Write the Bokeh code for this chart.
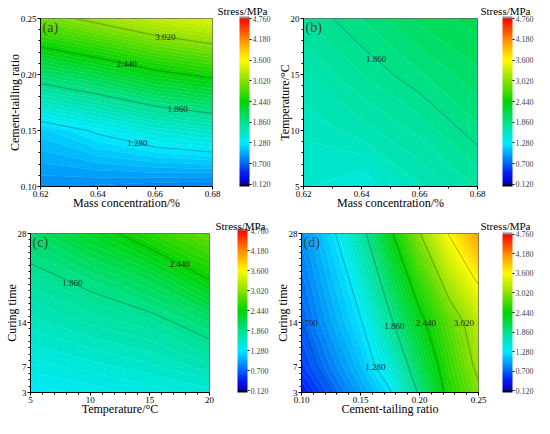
import numpy as np
from bokeh.plotting import figure
from bokeh.plotting.contour import contour_data
from bokeh.models import (ColorBar, LinearColorMapper, FixedTicker, Label, Range1d,
                          PrintfTickFormatter)
from bokeh.layouts import column, row
from bokeh.embed import file_html
from bokeh.resources import INLINE
from bokeh.core.properties import value

FONT = "Liberation Serif"

# ---------------- data ----------------
# (a) stress vs mass concentration (x) and cement-tailing ratio (y)
a_x = [0.62, 0.64, 0.66, 0.68]
a_y = [0.10, 0.15, 0.20, 0.25]
a_z = [[0.88, 0.86, 0.83, 0.80],
       [1.14, 1.31, 1.47, 1.58],
       [2.00, 2.16, 2.37, 2.50],
       [2.90, 3.10, 3.30, 3.45]]

# (b) stress vs mass concentration (x) and temperature (y)
b_x = [0.62, 0.64, 0.66, 0.68]
b_y = [5, 10, 15, 20]
b_z = [[1.52, 1.45, 1.62, 1.75],
       [1.58, 1.66, 1.76, 1.90],
       [1.68, 1.80, 1.91, 2.02],
       [1.80, 1.92, 2.05, 2.12]]

# (c) stress vs temperature (x) and curing time (y)
c_x = [5, 10, 15, 20]
c_y = [3, 7, 14, 21, 28]
c_z = [[1.30, 1.36, 1.42, 1.48],
       [1.42, 1.48, 1.55, 1.66],
       [1.60, 1.70, 1.78, 1.98],
       [1.78, 1.93, 2.12, 2.46],
       [2.03, 2.30, 2.60, 2.85]]

# (d) stress vs cement-tailing ratio (x) and curing time (y)
d_x = [0.10, 0.125, 0.15, 0.175, 0.20, 0.225, 0.25]
d_y = [3, 7, 14, 28]
d_z = [[0.40, 0.68, 0.97, 1.25, 1.91, 2.55, 2.95],
       [0.55, 0.82, 1.09, 1.47, 2.09, 2.63, 3.10],
       [0.69, 0.98, 1.25, 1.80, 2.34, 2.80, 3.24],
       [0.90, 1.20, 1.74, 2.38, 3.00, 3.62, 4.10]]

# colour-bar / contour levels
stress_ticks = [0.12, 0.70, 1.28, 1.86, 2.44, 3.02, 3.60, 4.18, 4.76]
stress_labels = ["0.120", "0.700", "1.280", "1.860", "2.440", "3.020", "3.600", "4.180", "4.760"]

# axis ticks
a_xticks, a_xlabels = [0.62, 0.64, 0.66, 0.68], ["0.62", "0.64", "0.66", "0.68"]
a_yticks, a_ylabels = [0.10, 0.15, 0.20, 0.25], ["0.10", "0.15", "0.20", "0.25"]
b_xticks, b_xlabels = [0.62, 0.64, 0.66, 0.68], ["0.62", "0.64", "0.66", "0.68"]
b_yticks, b_ylabels = [5, 10, 15, 20], ["5", "10", "15", "20"]
c_xticks, c_xlabels = [5, 10, 15, 20], ["5", "10", "15", "20"]
c_yticks, c_ylabels = [3, 7, 14, 28], ["3", "7", "14", "28"]
d_xticks, d_xlabels = [0.10, 0.15, 0.20, 0.25], ["0.10", "0.15", "0.20", "0.25"]
d_yticks, d_ylabels = [3, 7, 14, 28], ["3", "7", "14", "28"]

# ---------------- colours ----------------
anchor_v = [0.12, 0.41, 0.70, 1.28, 1.86, 2.44, 3.02, 3.60, 4.18, 4.76]
anchor_rgb = [(10, 0, 170), (0, 25, 245), (0, 100, 245), (0, 235, 255), (0, 225, 140),
              (0, 212, 0), (140, 225, 0), (255, 250, 0), (255, 140, 0), (255, 0, 0)]


def color_at(v):
    r = np.interp(v, anchor_v, [c[0] for c in anchor_rgb])
    g = np.interp(v, anchor_v, [c[1] for c in anchor_rgb])
    b = np.interp(v, anchor_v, [c[2] for c in anchor_rgb])
    return "#%02x%02x%02x" % (int(round(r)), int(round(g)), int(round(b)))


N_SUB = 10
fill_levels = list(np.linspace(stress_ticks[0], stress_ticks[-1], (len(stress_ticks) - 1) * N_SUB + 1))
step = fill_levels[1] - fill_levels[0]
band_colors = [color_at(0.5 * (lo + hi)) for lo, hi in zip(fill_levels[:-1], fill_levels[1:])]
level_colors = [color_at(v) for v in fill_levels]
cb_palette = ["#000000"] + band_colors + ["#8c8c8c"]


def point_on(xs, ys, axis, t):
    a = np.asarray(xs if axis == "x" else ys, float)
    b = np.asarray(ys if axis == "x" else xs, float)
    for i in range(len(a) - 1):
        a0, a1 = a[i], a[i + 1]
        if np.isnan(a0) or np.isnan(a1) or a0 == a1:
            continue
        if (a0 - t) * (a1 - t) <= 0:
            f = (t - a0) / (a1 - a0)
            v = b[i] + f * (b[i + 1] - b[i])
            return (t, v) if axis == "x" else (v, t)
    return None


def panel(xs, ys, zs, xt, xl, xfmt, xminor, yt, yl, yfmt, yminor, xlab, ylab, letter, lab_specs,
          w, h, bl, br, bt, bb, cb_dx):
    p = figure(width=w, height=h, x_range=Range1d(xs[0], xs[-1]), y_range=Range1d(ys[0], ys[-1]),
               output_backend="svg", toolbar_location=None,
               min_border_left=bl, min_border_right=br, min_border_top=bt, min_border_bottom=bb)
    z = np.array(zs, float)
    p.contour(xs, ys, z, levels=fill_levels, fill_color=band_colors,
              line_color=level_colors, line_width=0.6)
    p.contour(xs, ys, z, levels=stress_ticks, fill_color=None,
              line_color="black", line_alpha=0.3, line_width=1)

    cd = contour_data(xs, ys, z, levels=stress_ticks, want_fill=False, want_line=True)
    lx, ly, lt, lo = [], [], [], []
    for idx, axis, t, off in lab_specs:
        pt = point_on(cd.line_data.xs[idx], cd.line_data.ys[idx], axis, t)
        if pt is not None:
            lx.append(pt[0]); ly.append(pt[1]); lt.append(stress_labels[idx]); lo.append(off)
    p.text(x=lx, y=ly, text=lt, x_offset=lo, text_font=value(FONT), text_font_size="9px",
           text_align="center", text_baseline="middle", text_color="#1e2e22")

    p.grid.visible = False
    p.outline_line_color = "black"
    p.outline_line_alpha = 0.6
    p.xaxis.ticker = FixedTicker(ticks=xt, minor_ticks=xminor)
    p.yaxis.ticker = FixedTicker(ticks=yt, minor_ticks=yminor)
    p.xaxis.formatter = PrintfTickFormatter(format=xfmt)
    p.yaxis.formatter = PrintfTickFormatter(format=yfmt)
    p.xaxis.major_label_overrides = dict(zip(xt, xl))
    p.yaxis.major_label_overrides = dict(zip(yt, yl))
    p.xaxis.axis_label = xlab
    p.yaxis.axis_label = ylab
    for ax in (p.xaxis[0], p.yaxis[0]):
        ax.axis_line_color = "black"
        ax.major_tick_line_color = "black"
        ax.minor_tick_line_color = "black"
        ax.major_tick_out = 3
        ax.major_tick_in = 0
        ax.minor_tick_out = 2
        ax.minor_tick_in = 0
        ax.major_label_text_font = FONT
        ax.major_label_text_font_size = "9px"
        ax.major_label_text_color = "black"
        ax.major_label_standoff = 1
        ax.axis_label_text_font = FONT
        ax.axis_label_text_font_size = "12px"
        ax.axis_label_text_font_style = "normal"
        ax.axis_label_text_color = "black"
        ax.axis_label_standoff = -4

    fw = w - bl - br
    fh = h - bt - bb
    mapper = LinearColorMapper(palette=cb_palette, low=fill_levels[0] - step, high=fill_levels[-1] + step)
    cb = ColorBar(color_mapper=mapper, ticker=FixedTicker(ticks=stress_ticks),
                  formatter=PrintfTickFormatter(format="%.3f"),
                  major_label_overrides=dict(zip(stress_ticks, stress_labels)),
                  orientation="vertical", location=(fw + cb_dx, 0), width=10, height=fh,
                  padding=0, margin=0, background_fill_alpha=0, border_line_color=None,
                  bar_line_color=None, major_tick_in=0, major_tick_out=2,
                  major_tick_line_color="black", minor_tick_line_color=None, label_standoff=1,
                  major_label_text_font=FONT, major_label_text_font_size="8px")
    p.add_layout(cb)
    p.title.text = "Stress/MPa"
    p.title.align = "right"
    p.title.offset = -(cb_dx + 28)
    p.title.standoff = 4
    p.title.text_font = FONT
    p.title.text_font_size = "11px"
    p.title.text_font_style = "normal"
    p.title.text_color = "black"
    p.add_layout(Label(x=xs[0], y=ys[-1], x_offset=2, y_offset=-1, text=letter,
                       text_baseline="top", text_font=FONT, text_font_size="14px"))
    return p


pa = panel(a_x, a_y, a_z, a_xticks, a_xlabels, "%.2f", list(np.arange(0.62, 0.681, 0.01)),
           a_yticks, a_ylabels, "%.2f", list(np.arange(0.10, 0.251, 0.01)),
           "Mass concentration/%", "Cement-tailing ratio", "(a)",
           [(5, "x", 0.6636, 0), (4, "x", 0.650, 0), (3, "x", 0.6678, 0), (2, "x", 0.6538, 0)],
           271, 212, 40, 59, 17, 25, 27)
pb = panel(b_x, b_y, b_z, b_xticks, b_xlabels, "%.2f", list(np.arange(0.62, 0.681, 0.01)),
           b_yticks, b_ylabels, "%d", list(range(5, 21)),
           "Mass concentration/%", "Temperature/\u00b0C", "(b)",
           [(3, "x", 0.645, 0)],
           263, 212, 32, 57, 17, 25, 25)
pc = panel(c_x, c_y, c_z, c_xticks, c_xlabels, "%d", list(range(5, 21)),
           c_yticks, c_ylabels, "%d", list(range(3, 29)),
           "Temperature/\u00b0C", "Curing time", "(c)",
           [(3, "x", 8.5, 0), (4, "x", 17.5, 0)],
           271, 206, 30, 62, 17, 25, 28)
pd_ = panel(d_x, d_y, d_z, d_xticks, d_xlabels, "%.2f", list(np.arange(0.10, 0.251, 0.01)),
            d_yticks, d_ylabels, "%d", list(range(3, 29)),
            "Cement-tailing ratio", "Curing time", "(d)",
            [(1, "y", 14, 5), (2, "y", 7, 0), (3, "y", 13.5, 0), (4, "y", 14, 0), (5, "y", 14, 0)],
            263, 206, 30, 56, 21, 25, 24)

layout = column(row(pa, pb), row(pc, pd_))
open("out.html", "w").write(file_html(layout, INLINE))
